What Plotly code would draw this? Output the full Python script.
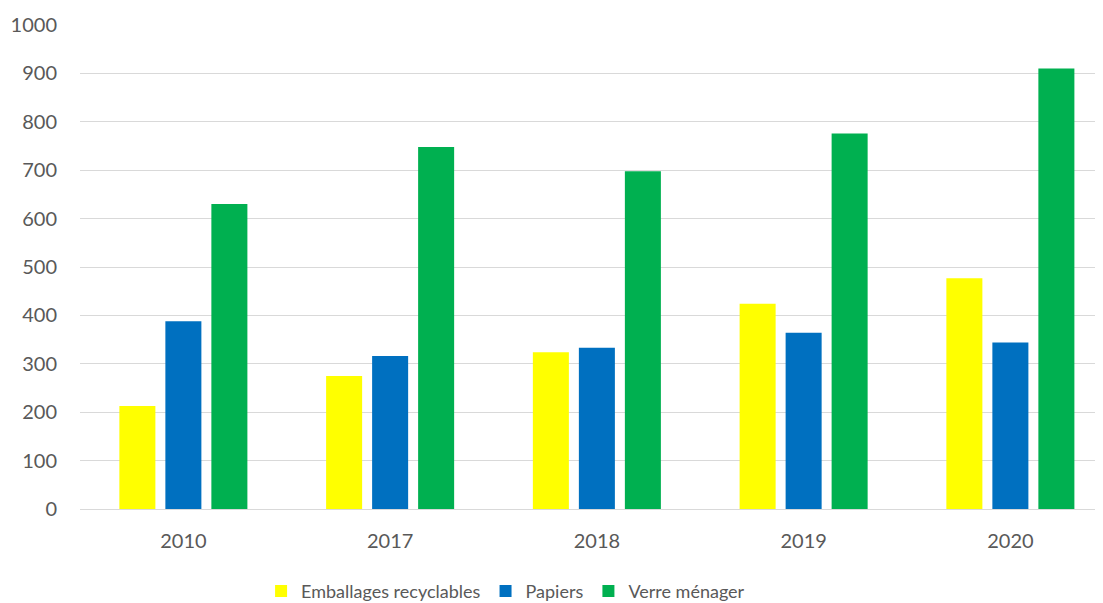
import plotly.graph_objects as go

years = ["2010", "2017", "2018", "2019", "2020"]
emballages = [213, 275, 324, 424, 477]
papiers = [388, 316, 333, 364, 344]
verre = [630, 748, 698, 776, 910]
y_ticks = [0, 100, 200, 300, 400, 500, 600, 700, 800, 900, 1000]

series = [
    ("Emballages recyclables", emballages, "#FFFF00"),
    ("Papiers", papiers, "#0070C0"),
    ("Verre ménager", verre, "#00B050"),
]

fig = go.Figure()
for name, vals, col in series:
    fig.add_trace(go.Bar(x=years, y=vals, name=name, marker=dict(color=col, line=dict(width=0))))

font_fam = "Lato, Open Sans, sans-serif"
fig.update_layout(
    width=1095, height=595,
    margin=dict(l=72, r=0, t=17, b=94, autoexpand=False),
    paper_bgcolor="white", plot_bgcolor="white",
    barmode="group", bargap=0.3325, bargroupgap=0.217,
    font=dict(family=font_fam, size=20, color="#595959"),
    showlegend=True,
    legend=dict(orientation="h", x=0.177, xanchor="left", y=-0.17, yanchor="middle",
                font=dict(size=18, color="#595959"), itemwidth=30, tracegroupgap=0),
    xaxis=dict(type="category", range=[-0.5, 4.448], showgrid=False, showline=True,
               linecolor="#d9d9d9", linewidth=1, ticks="", ticklabelstandoff=14,
               automargin=False),
    yaxis=dict(range=[0, 1000], tickvals=y_ticks, showgrid=True, gridcolor="#d9d9d9",
               gridwidth=1, zeroline=False, showline=False, ticks="", ticklabelstandoff=22,
               automargin=False),
)

fig.write_html("out.html")
